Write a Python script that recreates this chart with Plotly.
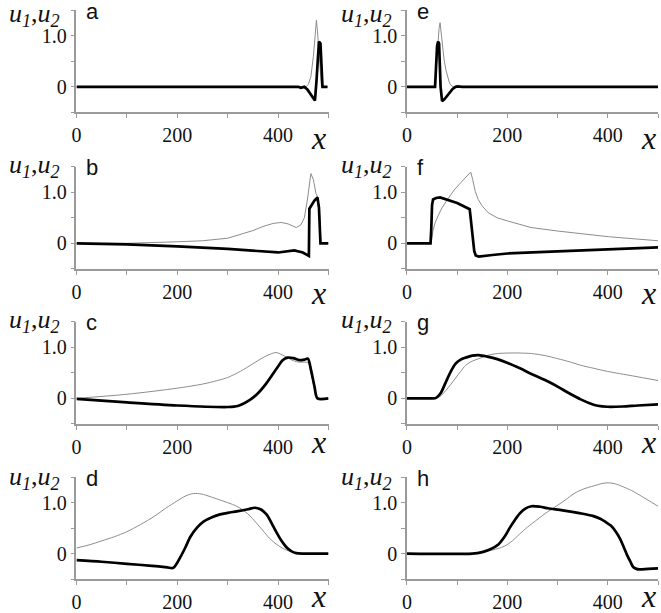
import plotly.graph_objects as go

# ---------------- data ----------------
# panel a
a_x1 = [0, 440, 445, 452, 458, 463, 468, 473, 476, 479, 481, 484, 486, 488, 498]
a_u1 = [0, 0, -0.02, 0, -0.05, -0.12, -0.2, -0.27, 0.1, 0.6, 0.89, 0.85, 0.3, 0, 0]
a_x2 = [0, 455, 460, 465, 470, 473, 476, 478, 480, 483, 486, 498]
a_u2 = [0, 0, 0.05, 0.2, 0.6, 0.95, 1.31, 1.1, 0.8, 0.3, 0, 0]
# panel b
b_x1 = [0, 100, 200, 300, 400, 423, 432, 449, 461, 462, 466, 472, 478, 481, 484, 500]
b_u1 = [0, -0.02, -0.06, -0.11, -0.18, -0.16, -0.14, -0.18, -0.25, 0.68, 0.75, 0.84, 0.9, 0.7, 0, 0]
b_x2 = [0, 100, 200, 250, 300, 320, 350, 370, 390, 406, 420, 436, 445, 452, 458, 465, 470, 475, 479, 483, 485, 500]
b_u2 = [0, 0.0, 0.03, 0.05, 0.1, 0.16, 0.25, 0.33, 0.39, 0.41, 0.38, 0.31, 0.36, 0.5, 0.85, 1.37, 1.25, 0.98, 0.9, 0.5, 0, 0]
# panel c
c_x1 = [0, 100, 200, 300, 320, 344, 360, 377, 396, 409, 419, 430, 442, 452, 459, 465, 472, 478, 500]
c_u1 = [-0.01, -0.08, -0.14, -0.17, -0.15, -0.03, 0.1, 0.3, 0.57, 0.75, 0.80, 0.79, 0.75, 0.76, 0.78, 0.57, 0.24, 0, 0]
c_x2 = [0, 100, 200, 250, 280, 300, 325, 350, 370, 385, 396, 413, 430, 442, 459, 465, 472, 478, 500]
c_u2 = [0.0, 0.08, 0.2, 0.28, 0.35, 0.41, 0.53, 0.68, 0.8, 0.87, 0.90, 0.83, 0.74, 0.71, 0.70, 0.5, 0.2, 0, 0]
# panel d
d_x1 = [0, 50, 100, 150, 180, 192, 206, 216, 226, 240, 252, 270, 285, 300, 318, 340, 354, 365, 377, 387, 396, 406, 416, 426, 436, 450, 500]
d_u1 = [-0.13, -0.16, -0.2, -0.24, -0.27, -0.28, -0.07, 0.12, 0.33, 0.52, 0.63, 0.72, 0.77, 0.8, 0.83, 0.87, 0.9, 0.87, 0.77, 0.6, 0.43, 0.26, 0.13, 0.05, 0.01, 0, 0]
d_x2 = [0, 25, 50, 75, 100, 127, 154, 177, 199, 216, 232, 248, 265, 300, 318, 340, 357, 370, 383, 400, 416, 436, 450, 500]
d_u2 = [0.11, 0.17, 0.25, 0.33, 0.43, 0.57, 0.73, 0.89, 1.03, 1.13, 1.18, 1.17, 1.12, 1.0, 0.93, 0.78, 0.6, 0.45, 0.3, 0.16, 0.07, 0.01, 0, 0]
# panel e
e_x1 = [0, 56, 58, 60, 62, 64, 67, 70, 75, 81, 86, 91, 97, 101, 110, 500]
e_u1 = [0, 0, 0.4, 0.8, 0.89, 0.85, 0.0, -0.28, -0.24, -0.16, -0.09, -0.04, 0.0, 0.01, 0, 0]
e_x2 = [0, 56, 58, 61, 64, 66, 68, 71, 74, 78, 81, 84, 87, 92, 500]
e_u2 = [0, 0, 0.3, 0.8, 1.15, 1.26, 1.05, 0.75, 0.53, 0.32, 0.2, 0.1, 0.04, 0, 0]
# panel f
f_x1 = [0, 47, 48.5, 50, 52, 58, 66, 80, 100, 125, 128, 131, 134, 137, 143, 170, 200, 250, 301, 350, 400, 450, 500]
f_u1 = [0, 0, 0.3, 0.75, 0.86, 0.89, 0.9, 0.86, 0.79, 0.67, 0.4, 0.0, -0.15, -0.24, -0.26, -0.23, -0.2, -0.18, -0.16, -0.14, -0.12, -0.1, -0.08]
f_x2 = [0, 48, 52, 56, 62, 70, 80, 95, 110, 127, 131, 136, 142, 150, 162, 180, 200, 247, 301, 350, 401, 450, 500]
f_u2 = [0, 0, 0.25, 0.4, 0.54, 0.7, 0.85, 1.06, 1.22, 1.40, 1.25, 1.02, 0.86, 0.73, 0.6, 0.5, 0.44, 0.31, 0.24, 0.18, 0.13, 0.09, 0.05]
# panel g
g_x1 = [0, 50, 58, 67, 77, 87, 97, 107, 117, 130, 143, 160, 180, 202, 225, 248, 275, 300, 323, 346, 365, 380, 399, 430, 460, 500]
g_u1 = [0, 0, 0.01, 0.1, 0.31, 0.52, 0.68, 0.76, 0.8, 0.84, 0.85, 0.82, 0.77, 0.69, 0.59, 0.48, 0.36, 0.23, 0.1, -0.02, -0.1, -0.145, -0.165, -0.16, -0.14, -0.12]
g_x2 = [0, 55, 65, 77, 87, 97, 107, 117, 130, 143, 163, 180, 202, 225, 248, 275, 300, 323, 346, 372, 399, 450, 500]
g_u2 = [0, 0, 0.03, 0.15, 0.27, 0.4, 0.53, 0.65, 0.73, 0.78, 0.85, 0.88, 0.89, 0.89, 0.88, 0.84, 0.78, 0.72, 0.65, 0.59, 0.53, 0.44, 0.35]
# panel h
h_x1 = [0, 130, 150, 165, 182, 195, 205, 215, 224, 235, 248, 265, 281, 310, 346, 370, 386, 396, 406, 416, 425, 432, 438, 445, 451, 457, 463, 480, 500]
h_u1 = [0, 0, 0.03, 0.08, 0.18, 0.34, 0.51, 0.66, 0.78, 0.88, 0.93, 0.92, 0.89, 0.85, 0.79, 0.74, 0.68, 0.62, 0.55, 0.43, 0.28, 0.12, -0.02, -0.16, -0.27, -0.3, -0.31, -0.3, -0.29]
h_x2 = [0, 130, 150, 170, 182, 195, 210, 224, 240, 261, 280, 294, 315, 333, 352, 372, 390, 402, 415, 431, 447, 463, 480, 500]
h_u2 = [0, 0, 0.03, 0.07, 0.1, 0.15, 0.25, 0.38, 0.52, 0.68, 0.82, 0.91, 1.05, 1.18, 1.27, 1.33, 1.38, 1.39, 1.37, 1.31, 1.24, 1.15, 1.05, 0.93]

panel_labels = ["a", "b", "c", "d", "e", "f", "g", "h"]
x_tickvals = [0, 100, 200, 300, 400, 500]
x_ticktext = ["0", "", "200", "", "400", ""]
y_tickvals = [-0.5, 0, 0.5, 1.0, 1.5]
y_ticktext = ["", "0", "", "1.0", ""]

# ---------------- layout geometry ----------------
W, H = 661, 613
col_px = [(72, 326), (405, 658)]
zero_px = [87, 243.7, 399, 554.5]
ppu = 51.0
YMIN, YMAX = -0.5, 1.5

panels = [
    (a_x1, a_u1, a_x2, a_u2, "linear"),
    (b_x1, b_u1, b_x2, b_u2, "linear"),
    (c_x1, c_u1, c_x2, c_u2, "spline"),
    (d_x1, d_u1, d_x2, d_u2, "spline"),
    (e_x1, e_u1, e_x2, e_u2, "linear"),
    (f_x1, f_u1, f_x2, f_u2, "linear"),
    (g_x1, g_u1, g_x2, g_u2, "spline"),
    (h_x1, h_u1, h_x2, h_u2, "spline"),
]

AX_COLOR = "#9a9a9a"
SERIF = "Liberation Serif, Times New Roman, serif"
TICKFONT = dict(family=SERIF, size=20, color="#111111")

fig = go.Figure()
layout = {}
annotations = []
u_label_y = [15, 166, 321.5, 478.5]
xlabel_off = [26, 24, 18, 17]

for i, (x1, u1, x2, u2, shape) in enumerate(panels):
    n = i + 1
    col = i // 4
    row = i % 4
    xa = "x" if n == 1 else f"x{n}"
    ya = "y" if n == 1 else f"y{n}"
    sfx = "" if n == 1 else str(n)
    z = zero_px[row]
    top_px = z - YMAX * ppu
    bot_px = z - YMIN * ppu
    xl, xr = col_px[col]
    lshape = dict(shape=shape, smoothing=0.8) if shape == "spline" else dict(shape="linear")

    fig.add_trace(go.Scatter(x=x2, y=u2, mode="lines", xaxis=xa, yaxis=ya,
                             line=dict(color="#8c8c8c", width=1, **lshape),
                             showlegend=False, hoverinfo="skip"))
    fig.add_trace(go.Scatter(x=x1, y=u1, mode="lines", xaxis=xa, yaxis=ya,
                             line=dict(color="#000000", width=2.7, **lshape),
                             showlegend=False, hoverinfo="skip"))

    layout["xaxis" + sfx] = dict(
        domain=[xl / W, xr / W], range=[0, 500], anchor=ya,
        showline=True, linecolor=AX_COLOR, linewidth=1.5,
        ticks="outside", ticklen=4, tickcolor=AX_COLOR, tickwidth=1,
        tickvals=x_tickvals, ticktext=x_ticktext, tickfont=TICKFONT,
        showgrid=False, zeroline=False, fixedrange=True,
    )
    layout["yaxis" + sfx] = dict(
        domain=[1 - bot_px / H, 1 - top_px / H], range=[YMIN, YMAX], anchor=xa,
        showline=True, linecolor=AX_COLOR, linewidth=1.5,
        ticks="outside", ticklen=4, tickcolor=AX_COLOR, tickwidth=1,
        tickvals=y_tickvals, ticktext=y_ticktext, tickfont=TICKFONT,
        showgrid=False, zeroline=False, fixedrange=True,
    )

    lx = 2 if col == 0 else 337
    annotations.append(dict(
        xref="paper", yref="paper", x=lx / W, y=1 - u_label_y[row] / H,
        xanchor="left", yanchor="middle", showarrow=False,
        text="<i>u</i><sub><i>1</i></sub>,<i>u</i><sub><i>2</i></sub>",
        font=dict(family=SERIF, size=26, color="#111111"),
    ))
    annotations.append(dict(
        xref="paper", yref="paper", x=(xl + 8) / W, y=1 - (top_px + 1) / H,
        xanchor="left", yanchor="middle", showarrow=False,
        text=panel_labels[i],
        font=dict(family="Liberation Sans, Arial, sans-serif", size=22, color="#111111"),
    ))
    annotations.append(dict(
        xref="paper", yref="paper", x=(xr - 10) / W, y=1 - (bot_px + xlabel_off[row]) / H,
        xanchor="center", yanchor="middle", showarrow=False,
        text="<i>x</i>",
        font=dict(family=SERIF, size=32, color="#111111"),
    ))

fig.update_layout(
    width=W, height=H, autosize=False,
    margin=dict(l=0, r=0, t=0, b=0),
    paper_bgcolor="white", plot_bgcolor="white",
    annotations=annotations,
    **layout,
)

fig.write_html("out.html", config={"displayModeBar": False},
               post_script="document.body.style.margin='0px';")
